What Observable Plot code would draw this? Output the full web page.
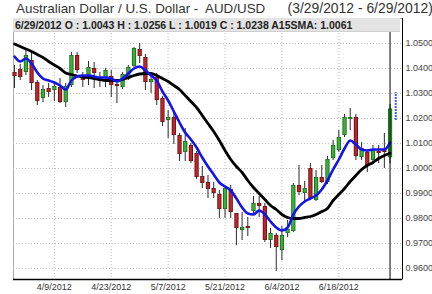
<!DOCTYPE html>
<html><head><meta charset="utf-8">
<script src="https://cdn.jsdelivr.net/npm/d3@7"></script>
<script src="https://cdn.jsdelivr.net/npm/@observablehq/plot@0.6"></script>
<style>
body{margin:0;background:#fff;width:432px;height:294px;overflow:hidden;font-family:"Liberation Sans",Arial,sans-serif}
#title{height:17px;line-height:17px;font-size:13.4px;color:#333;padding-left:16px;white-space:pre}
#title span{font-size:13.9px}
#wrap{position:relative;height:277px}
#info{position:absolute;left:13px;top:1px;width:387px;height:14px;background:#e3e3e3;font-weight:bold;font-size:10.5px;line-height:14px;color:#222;padding-left:2px;box-sizing:border-box;white-space:pre;border-bottom:1px solid #d0d0d0}
</style></head><body>
<div id="title">Australian Dollar / U.S. Dollar -  AUD/USD      <span>(3/29/2012 - 6/29/2012)</span></div>
<div id="wrap"><div id="chart"></div><div id="info"></div></div>
<script>
const dates = ["3/29/2012","3/30/2012",
"4/2/2012","4/3/2012","4/4/2012","4/5/2012","4/6/2012",
"4/9/2012","4/10/2012","4/11/2012","4/12/2012","4/13/2012",
"4/16/2012","4/17/2012","4/18/2012","4/19/2012","4/20/2012",
"4/23/2012","4/24/2012","4/25/2012","4/26/2012","4/27/2012",
"4/30/2012","5/1/2012","5/2/2012","5/3/2012","5/4/2012",
"5/7/2012","5/8/2012","5/9/2012","5/10/2012","5/11/2012",
"5/14/2012","5/15/2012","5/16/2012","5/17/2012","5/18/2012",
"5/21/2012","5/22/2012","5/23/2012","5/24/2012","5/25/2012",
"5/28/2012","5/29/2012","5/30/2012","5/31/2012","6/1/2012",
"6/4/2012","6/5/2012","6/6/2012","6/7/2012","6/8/2012",
"6/11/2012","6/12/2012","6/13/2012","6/14/2012","6/15/2012",
"6/18/2012","6/19/2012","6/20/2012","6/21/2012","6/22/2012",
"6/25/2012","6/26/2012","6/27/2012","6/28/2012","6/29/2012"];

const open = [1.0384,1.0396,1.0384,1.0432,1.0344,1.0280,1.0320,1.0312,1.0324,1.0264,
1.0332,1.0452,1.0364,1.0372,1.0400,1.0364,1.0360,1.0368,1.0336,1.0324,
1.0360,1.0408,1.0476,1.0444,1.0344,1.0364,1.0280,1.0192,1.0204,1.0132,
1.0064,1.0092,1.0060,0.9968,0.9944,0.9920,0.9896,0.9836,0.9916,0.9820,
0.9752,0.9768,0.9828,0.9860,0.9848,0.9712,0.9732,0.9672,0.9740,0.9748,
0.9932,0.9900,1.0000,0.9872,0.9964,0.9944,1.0040,1.0072,1.0132,1.0196,
1.0204,1.0044,1.0064,1.0032,1.0068,1.0076,1.0043];
const high = [1.0412,1.0416,1.0480,1.0464,1.0352,1.0332,1.0340,1.0344,1.0360,1.0340,
1.0464,1.0464,1.0384,1.0428,1.0424,1.0384,1.0400,1.0392,1.0352,1.0384,
1.0412,1.0484,1.0500,1.0456,1.0380,1.0380,1.0288,1.0232,1.0220,1.0140,
1.0160,1.0100,1.0068,1.0008,0.9972,0.9944,0.9912,0.9928,0.9932,0.9820,
0.9824,0.9804,0.9888,0.9888,0.9860,0.9760,0.9740,0.9768,0.9792,0.9940,
1.0012,0.9948,1.0020,0.9992,1.0012,1.0048,1.0112,1.0152,1.0216,1.0240,
1.0216,1.0104,1.0072,1.0092,1.0092,1.0140,1.0256];
const low = [1.0320,1.0352,1.0372,1.0312,1.0252,1.0264,1.0284,1.0268,1.0260,1.0244,
1.0324,1.0380,1.0324,1.0332,1.0320,1.0324,1.0324,1.0284,1.0260,1.0316,
1.0352,1.0404,1.0420,1.0312,1.0300,1.0252,1.0168,1.0120,1.0096,1.0028,
1.0028,1.0020,0.9956,0.9920,0.9880,0.9880,0.9800,0.9800,0.9800,0.9692,
0.9712,0.9728,0.9816,0.9804,0.9704,0.9680,0.9588,0.9632,0.9724,0.9744,
0.9892,0.9860,0.9876,0.9868,0.9940,0.9936,1.0032,1.0064,1.0124,1.0152,
1.0032,1.0032,0.9984,1.0020,1.0020,1.0000,1.0019];
const close = [1.0368,1.0364,1.0452,1.0340,1.0268,1.0316,1.0304,1.0328,1.0264,1.0328,
1.0452,1.0392,1.0352,1.0404,1.0380,1.0348,1.0392,1.0332,1.0328,1.0376,
1.0404,1.0480,1.0448,1.0344,1.0356,1.0272,1.0184,1.0204,1.0132,1.0056,
1.0108,1.0028,0.9964,0.9940,0.9916,0.9900,0.9836,0.9920,0.9824,0.9760,
0.9764,0.9760,0.9860,0.9848,0.9712,0.9740,0.9684,0.9732,0.9756,0.9932,
0.9904,0.9920,0.9880,0.9964,0.9944,1.0036,1.0092,1.0124,1.0204,1.0204,
1.0048,1.0080,1.0012,1.0072,1.0060,1.0064,1.0238];

// 15-day SMA (black) and short moving average (blue)
const sma15 = [1.0498,1.0488,1.0478,1.0468,1.0456,1.0444,1.0428,1.0414,1.0400,1.0382,
1.0376,1.0370,1.0366,1.0364,1.0360,1.0356,1.0352,1.0352,1.0352,1.0356,
1.0364,1.0372,1.0378,1.0380,1.0380,1.0372,1.0360,1.0348,1.0332,1.0316,
1.0292,1.0268,1.0244,1.0212,1.0180,1.0148,1.0112,1.0072,1.0036,1.0008,
0.9984,0.9952,0.9924,0.9900,0.9876,0.9852,0.9836,0.9816,0.9804,0.9800,
0.9800,0.9804,0.9808,0.9816,0.9828,0.9840,0.9872,0.9896,0.9920,0.9948,
0.9972,0.9996,1.0012,1.0024,1.0040,1.0052,1.0061];
const maBlue = [1.0448,1.0428,1.0440,1.0420,1.0384,1.0360,1.0352,1.0344,1.0332,1.0316,
1.0352,1.0368,1.0372,1.0372,1.0368,1.0364,1.0364,1.0360,1.0348,1.0360,
1.0380,1.0400,1.0408,1.0392,1.0372,1.0352,1.0308,1.0272,1.0228,1.0184,
1.0144,1.0116,1.0084,1.0044,1.0008,0.9976,0.9944,0.9928,0.9912,0.9880,
0.9844,0.9820,0.9816,0.9832,0.9816,0.9788,0.9764,0.9752,0.9764,0.9816,
0.9848,0.9868,0.9880,0.9892,0.9916,0.9952,0.9996,1.0036,1.0080,1.0112,
1.0096,1.0076,1.0072,1.0076,1.0076,1.0076,1.0104];

const markerRange = [1.0192, 1.0304];
const yTicks = [0.96,0.97,0.98,0.99,1.00,1.01,1.02,1.03,1.04,1.05];
const xTickLabels = ["4/9/2012","4/23/2012","5/7/2012","5/21/2012","6/4/2012","6/18/2012"];

const xDomain = [-0.18, 68.19];
const yDomain = [0.9556, 1.06];

const data = dates.map((d,i)=>({i, date:d, o:open[i], h:high[i], l:low[i], c:close[i],
  top:Math.max(open[i],close[i]), bot:Math.min(open[i],close[i]), up: close[i] >= open[i]}));
const blackLine = sma15.map((v,i)=>({i, v}));
const blueLine = maBlue.map((v,i)=>({i, v}));
const xTickIdx = xTickLabels.map(s=>dates.indexOf(s));
const last = data[data.length-1];

const chart = Plot.plot({
  width: 432, height: 277,
  marginLeft: 13, marginRight: 30, marginTop: 1, marginBottom: 15,
  style: {fontFamily: '"Liberation Sans", Arial, sans-serif', background: "#fff"},
  x: {type: "linear", domain: xDomain, label: null},
  y: {domain: yDomain, label: null},
  marks: [
    Plot.frame({stroke: "#aaa"}),
    Plot.gridY(yTicks, {stroke: "#bdbdbd", strokeOpacity: 1, strokeDasharray: "1,2"}),
    Plot.gridX(xTickIdx, {stroke: "#bdbdbd", strokeOpacity: 1, strokeDasharray: "1,2"}),
    Plot.ruleX(data, {x: "i", y1: "l", y2: "h", stroke: "#2a2a2a", strokeWidth: 1}),
    Plot.ruleX(data, {x: "i", y1: "top", y2: "bot", stroke: d => d.up ? "#1d5e1d" : "#5b1010", strokeWidth: 4.2}),
    Plot.ruleX(data, {x: "i", y1: "top", y2: "bot", insetTop: 0.6, insetBottom: 0.6, stroke: d => d.up ? "#36b336" : "#c0242a", strokeWidth: 2.6}),
    Plot.line(blackLine, {x: "i", y: "v", stroke: "#000", strokeWidth: 2.8, curve: "monotone-x"}),
    Plot.line(blueLine, {x: "i", y: "v", stroke: "#1414e8", strokeWidth: 2.6, curve: "monotone-x"}),
    Plot.ruleX([last], {x: "i", stroke: "#000", strokeWidth: 1}),
    Plot.ruleX([{i: dates.length, lo: markerRange[0], hi: markerRange[1]}], {x: "i", y1: "lo", y2: "hi", stroke: "#3a62c8", strokeWidth: 2, strokeDasharray: "2,1"}),
    Plot.ruleY([yDomain[0]], {stroke: "#000", strokeWidth: 1.5}),
    Plot.ruleX([xDomain[1]], {stroke: "#000", strokeWidth: 1}),
    Plot.axisY(yTicks, {anchor: "right", label: null, tickFormat: d => d.toFixed(4), tickSize: 0, tickPadding: 3, fontSize: 9, color: "#444"}),
    Plot.axisX(xTickIdx, {anchor: "bottom", label: null, tickFormat: i => dates[i], tickSize: 0, tickPadding: 4, fontSize: 9, color: "#333"})
  ]
});
document.getElementById("chart").appendChild(chart);
document.getElementById("info").textContent =
  `${last.date} O : ${last.o.toFixed(4)} H : ${last.h.toFixed(4)} L : ${last.l.toFixed(4)} C : ${last.c.toFixed(4)} A15SMA: ${sma15[sma15.length-1].toFixed(4)}`;
</script>
</body></html>
